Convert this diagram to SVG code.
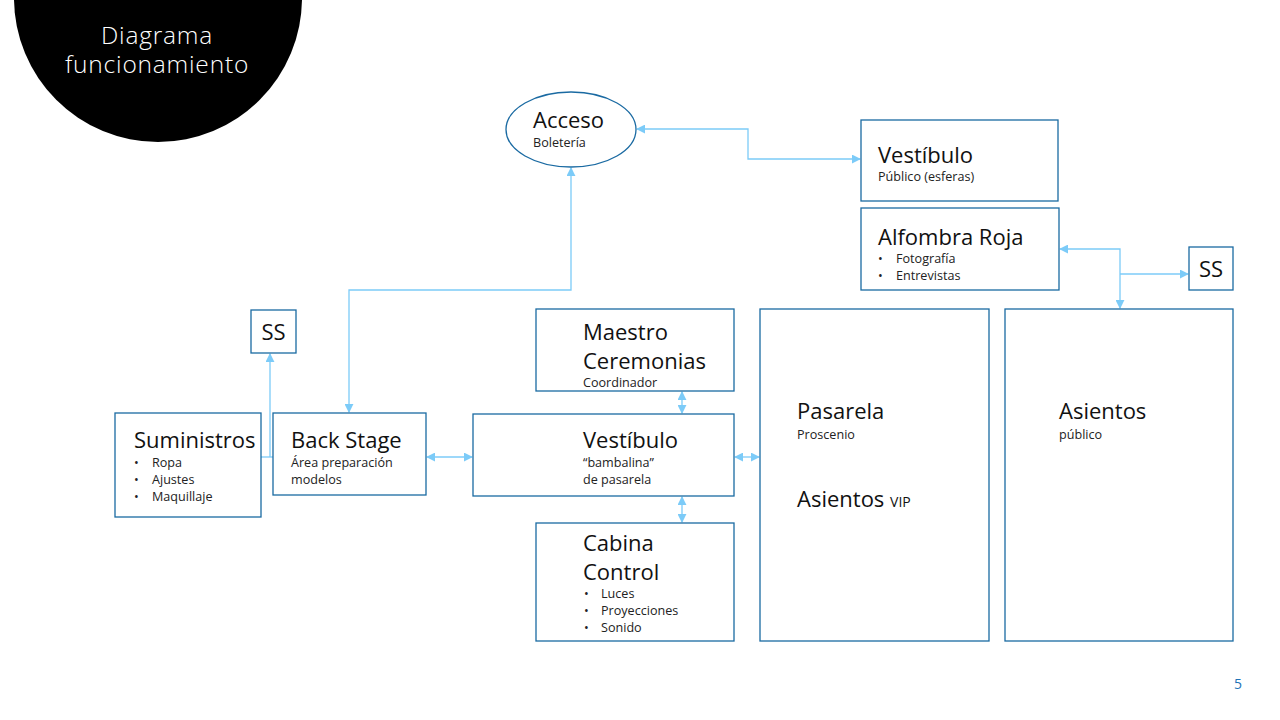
<svg xmlns="http://www.w3.org/2000/svg" width="1280" height="720" viewBox="0 0 1280 720">
<defs>
<marker id="ah" viewBox="0 0 10 10" refX="9" refY="5" markerWidth="9" markerHeight="9" markerUnits="userSpaceOnUse" orient="auto-start-reverse">
<path d="M0,0 L10,5 L0,10 z" fill="#7ccbf8"/>
</marker>
<style>
.box{fill:#fff;stroke:#1a6aa2;stroke-width:1.3}
.c{fill:none;stroke:#7ccbf8;stroke-width:1.3}
.t{font-family:"Open Sans","Noto Sans","Liberation Sans",sans-serif;fill:#111;font-size:22px}
.s{font-family:"Open Sans","Noto Sans","Liberation Sans",sans-serif;fill:#222;font-size:12.6px}
.ti{font-family:"Open Sans","Noto Sans","Liberation Sans",sans-serif;fill:#fff;font-size:24.5px;font-weight:300;letter-spacing:0.8px}
</style>
</defs>
<rect width="1280" height="720" fill="#fff"/>
<g id="title">
<circle cx="158" cy="-2" r="144" fill="#000"/>
<text class="ti" x="157" y="44" text-anchor="middle">Diagrama</text>
<text class="ti" x="157" y="73" text-anchor="middle">funcionamiento</text>
</g>
<g id="connectors">
<path class="c" d="M637,129 H748 V159 H860" marker-start="url(#ah)" marker-end="url(#ah)"/>
<path class="c" d="M349,412 V290 H571 V168" marker-start="url(#ah)" marker-end="url(#ah)"/>
<path class="c" d="M261,457 H273"/>
<path class="c" d="M270,457 V354" marker-end="url(#ah)"/>
<path class="c" d="M427,457 H472" marker-start="url(#ah)" marker-end="url(#ah)"/>
<path class="c" d="M682,392 V413" marker-start="url(#ah)" marker-end="url(#ah)"/>
<path class="c" d="M682,497 V522" marker-start="url(#ah)" marker-end="url(#ah)"/>
<path class="c" d="M735,457 H759" marker-start="url(#ah)" marker-end="url(#ah)"/>
<path class="c" d="M1060,249 H1120 V308" marker-start="url(#ah)" marker-end="url(#ah)"/>
<path class="c" d="M1120,274 H1188" marker-end="url(#ah)"/>
</g>
<g id="acceso">
<ellipse class="box" cx="571" cy="129.5" rx="65" ry="37.5"/>
<text class="t" x="533" y="128">Acceso</text>
<text class="s" x="533" y="147">Boletería</text>
</g>
<g id="vestibulo-publico">
<rect class="box" x="861" y="120" width="197" height="81"/>
<text class="t" x="878" y="163">Vestíbulo</text>
<text class="s" x="878" y="181">Público (esferas)</text>
</g>
<g id="alfombra-roja">
<rect class="box" x="861" y="208" width="198" height="82"/>
<text class="t" x="878" y="245">Alfombra Roja</text>
<text class="s" x="878" y="263">•</text><text class="s" x="896" y="263">Fotografía</text>
<text class="s" x="878" y="280">•</text><text class="s" x="896" y="280">Entrevistas</text>
</g>
<g id="ss-right">
<rect class="box" x="1189" y="247" width="44" height="43"/>
<text class="t" x="1211" y="277" text-anchor="middle">SS</text>
</g>
<g id="ss-left">
<rect class="box" x="251" y="310" width="45" height="43"/>
<text class="t" x="273.5" y="340" text-anchor="middle">SS</text>
</g>
<g id="suministros">
<rect class="box" x="115" y="413" width="146" height="104"/>
<text class="t" x="134" y="448">Suministros</text>
<text class="s" x="134" y="467">•</text><text class="s" x="152" y="467">Ropa</text>
<text class="s" x="134" y="484">•</text><text class="s" x="152" y="484">Ajustes</text>
<text class="s" x="134" y="501">•</text><text class="s" x="152" y="501">Maquillaje</text>
</g>
<g id="back-stage">
<rect class="box" x="273" y="413" width="153" height="82"/>
<text class="t" x="291" y="448">Back Stage</text>
<text class="s" x="291" y="467">Área preparación</text>
<text class="s" x="291" y="484">modelos</text>
</g>
<g id="vestibulo-bambalina">
<rect class="box" x="473" y="414" width="261" height="82"/>
<text class="t" x="583" y="448">Vestíbulo</text>
<text class="s" x="583" y="467">“bambalina”</text>
<text class="s" x="583" y="484">de pasarela</text>
</g>
<g id="maestro-ceremonias">
<rect class="box" x="536" y="309" width="198" height="82"/>
<text class="t" x="583" y="340">Maestro</text>
<text class="t" x="583" y="369">Ceremonias</text>
<text class="s" x="583" y="387">Coordinador</text>
</g>
<g id="cabina-control">
<rect class="box" x="536" y="523" width="198" height="118"/>
<text class="t" x="583" y="551">Cabina</text>
<text class="t" x="583" y="580">Control</text>
<text class="s" x="584" y="598">•</text><text class="s" x="601" y="598">Luces</text>
<text class="s" x="584" y="615">•</text><text class="s" x="601" y="615">Proyecciones</text>
<text class="s" x="584" y="632">•</text><text class="s" x="601" y="632">Sonido</text>
</g>
<g id="pasarela">
<rect class="box" x="760" y="309" width="229" height="332"/>
<text class="t" x="797" y="419">Pasarela</text>
<text class="s" x="797" y="439">Proscenio</text>
<text class="t" x="797" y="507">Asientos <tspan font-size="14">VIP</tspan></text>
</g>
<g id="asientos-publico">
<rect class="box" x="1005" y="309" width="228" height="332"/>
<text class="t" x="1059" y="419">Asientos</text>
<text class="s" x="1059" y="439">público</text>
</g>
<text x="1238" y="689" text-anchor="middle" font-family="Open Sans, Noto Sans, sans-serif" font-size="14" fill="#1f73b7">5</text>
</svg>
